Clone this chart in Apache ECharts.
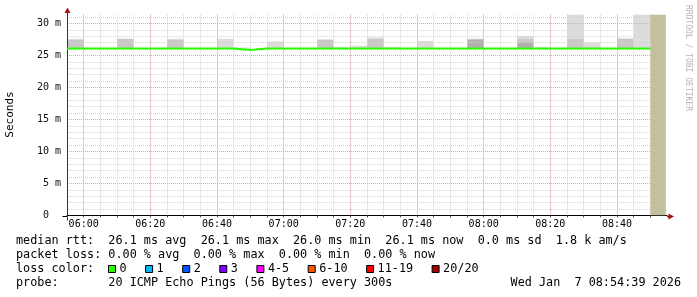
<!DOCTYPE html>
<html><head><meta charset="utf-8">
<script src="https://cdn.jsdelivr.net/npm/echarts@6/dist/echarts.min.js"></script>
<style>html,body{margin:0;padding:0;background:#fff}#c{width:697px;height:297px}</style>
</head><body><div id="c"></div>
<script>
// ---- data ----
const stepStarts = ['05:55','06:00','06:05','06:10','06:15','06:20','06:25','06:30','06:35','06:40',
  '06:45','06:50','06:55','07:00','07:05','07:10','07:15','07:20','07:25','07:30',
  '07:35','07:40','07:45','07:50','07:55','08:00','08:05','08:10','08:15','08:20',
  '08:25','08:30','08:35','08:40','08:45'];
const medianRtt = [26.1,26.1,26.1,26.1,26.1,26.1,26.1,26.1,26.1,26.1,
  25.85,26.1,26.1,26.1,26.1,26.1,26.1,26.1,26.1,26.1,
  26.1,26.1,26.1,26.1,26.1,26.1,26.1,26.1,26.1,26.1,
  26.1,26.1,26.1,26.1,26.1];
const smokeDark = [null,null,null,null,null,null,null,null,null,null,
  null,null,null,null,null,null,null,null,null,null,
  null,null,null,null,27.4,null,null,27.2,null,null,
  null,null,null,null,null];
const smokeMid = [27.45,null,null,27.6,null,null,27.4,null,null,null,
  null,null,null,null,null,27.4,null,null,27.6,null,
  null,null,null,null,27.6,null,null,27.6,null,null,
  27.65,null,null,27.65,null];
const smokeLight = [27.6,null,null,null,null,null,27.6,null,null,27.6,
  26.25,null,27.2,null,null,27.55,26.3,26.5,27.8,26.3,
  null,27.25,null,null,null,null,null,28.05,26.3,null,
  31.4,27.0,null,null,31.4];
const unknownSpan = ['08:50','08:54:39'];
const xTickLabels = ['06:00','06:20','06:40','07:00','07:20','07:40','08:00','08:20','08:40'];
const yTickLabels = ['0  ','5 m','10 m','15 m','20 m','25 m','30 m'];
const legendLines = [
  'median rtt:  26.1 ms avg  26.1 ms max  26.0 ms min  26.1 ms now  0.0 ms sd  1.8 k am/s',
  'packet loss: 0.00 % avg  0.00 % max  0.00 % min  0.00 % now',
  'loss color:',
  'probe:       20 ICMP Echo Pings (56 Bytes) every 300s'
];
const lossLabels = ['0','1','2','3','4-5','6-10','11-19','20/20'];
const lossColors = ['#26ff00','#00b8ff','#0059ff','#7e00ff','#ff00ff','#ff5500','#ff0000','#a10000'];
const timestampText = 'Wed Jan  7 08:54:39 2026';
const watermark = 'RRDTOOL / TOBI OETIKER';
const yAxisTitle = 'Seconds';

// ---- helpers ----
const toMin = s => { const p = s.split(':').map(Number); return p[0]*60 + p[1] + (p[2]||0)/60; };
const fmtHM = v => { const h = Math.floor(v/60), m = Math.round(v%60); return String(h).padStart(2,'0')+':'+String(m).padStart(2,'0'); };
const STEP = 5;
const MONO = '"DejaVu Sans Mono", "Liberation Mono", monospace';
const CH = 7.1;

function layer(tops, lowers) {
  const out = [];
  tops.forEach((v, i) => {
    if (v == null) return;
    let lo = medianRtt[i];
    lowers.forEach(arr => { if (arr[i] != null && arr[i] > lo) lo = arr[i]; });
    if (v > lo) out.push([toMin(stepStarts[i]), lo, v]);
  });
  return out;
}
function rectRender(color) {
  return function (params, api) {
    const t = api.value(0), lo = api.value(1), hi = api.value(2);
    const p0 = api.coord([t, hi]);
    const p1 = api.coord([t + STEP, lo]);
    return { type: 'rect', shape: { x: p0[0], y: p0[1], width: p1[0]-p0[0], height: p1[1]-p0[1] },
      style: { fill: color } };
  };
}

const xMin = toMin(stepStarts[0]);   // 355 (multiple of 5)
const xMax = 535;
const yMax = 31.4;
// stepped median line: each 5-minute value held across its interval
const lineData = [];
stepStarts.forEach((s, i) => { const t = toMin(s); lineData.push([t, medianRtt[i]]); lineData.push([t + STEP, medianRtt[i]]); });

// major-grid helper grid: same scale, extended left so its min (340) is a multiple of 20
const PX_PER_MIN = 600 / (xMax - xMin);
const majMin = 340;
const gridTop = 14.5, gridH = 201, gridLeft = 67;

const chart = echarts.init(document.getElementById('c'), null, { renderer: 'canvas' });
const GRAY = '#d4d4d4', RED = '#e6a4a4';
const option = {
  animation: false,
  backgroundColor: '#ffffff',
  grid: [
    { left: gridLeft, top: gridTop, width: 600, height: gridH, outerBoundsMode: 'none', containLabel: false },
    { left: gridLeft - (xMin - majMin) * PX_PER_MIN, top: gridTop, width: (xMax - majMin) * PX_PER_MIN, height: gridH, outerBoundsMode: 'none', containLabel: false }
  ],
  xAxis: [
    {
      type: 'value', gridIndex: 0, min: xMin, max: xMax, interval: STEP, z: 3,
      axisLine: { show: true, onZero: false, lineStyle: { color: '#000', width: 1 } },
      axisTick: { show: true, length: 2, lineStyle: { color: '#555' } },
      axisLabel: { margin: 4, color: '#000', fontFamily: MONO, fontSize: 10,
        formatter: v => { const s = fmtHM(v); return xTickLabels.includes(s) ? s : ''; } },
      splitLine: { show: true, showMinLine: false, showMaxLine: false,
        lineStyle: { color: GRAY, type: 'dotted', width: 1 } }
    },
    {
      type: 'value', gridIndex: 1, min: majMin, max: xMax, interval: 20, z: 3,
      axisLine: { show: false }, axisTick: { show: false }, axisLabel: { show: false },
      splitLine: { show: true, showMinLine: false, showMaxLine: false,
        lineStyle: { color: RED, type: 'dotted', width: 1 } }
    }
  ],
  yAxis: [
    {
      type: 'value', gridIndex: 0, min: 0, max: yMax, interval: 1, z: 3,
      axisLine: { show: true, lineStyle: { color: '#333', width: 1 } },
      axisTick: { show: false },
      axisLabel: { margin: 6, color: '#111', fontFamily: MONO, fontSize: 10,
        formatter: v => (Math.abs(v % 5) < 1e-9 && yTickLabels[v/5] !== undefined) ? yTickLabels[v/5] : '' },
      splitLine: { show: true, showMinLine: false, showMaxLine: false,
        lineStyle: { color: GRAY, type: 'dotted', width: 1 } }
    },
    {
      type: 'value', gridIndex: 0, min: 0, max: yMax, interval: 5, z: 3,
      axisLine: { show: false }, axisTick: { show: false }, axisLabel: { show: false },
      splitLine: { show: true, showMinLine: false, showMaxLine: false,
        lineStyle: { color: RED, type: 'dotted', width: 1 } }
    },
    {
      type: 'value', gridIndex: 1, min: 0, max: yMax, show: false,
      axisLine: { show: false }, axisTick: { show: false }, axisLabel: { show: false }, splitLine: { show: false }
    }
  ],
  series: [
    { type: 'custom', name: 'smoke-light', renderItem: rectRender('#dcdcdc'), clip: true, z: 2,
      xAxisIndex: 0, yAxisIndex: 0, encode: { x: 0, y: [1, 2] }, data: layer(smokeLight, [smokeDark, smokeMid]) },
    { type: 'custom', name: 'smoke-mid', renderItem: rectRender('#c8c8c8'), clip: true, z: 2,
      xAxisIndex: 0, yAxisIndex: 0, encode: { x: 0, y: [1, 2] }, data: layer(smokeMid, [smokeDark]) },
    { type: 'custom', name: 'smoke-dark', renderItem: rectRender('#b0b0b0'), clip: true, z: 2,
      xAxisIndex: 0, yAxisIndex: 0, encode: { x: 0, y: [1, 2] }, data: layer(smokeDark, []) },
    { type: 'custom', name: 'unknown', z: 4, clip: true, xAxisIndex: 0, yAxisIndex: 0,
      renderItem: function (params, api) {
        const p0 = api.coord([api.value(0), yMax]);
        const p1 = api.coord([api.value(1), 0]);
        return { type: 'rect', shape: { x: p0[0], y: p0[1], width: p1[0]-p0[0], height: p1[1]-p0[1] },
          style: { fill: '#c3c09e' } };
      },
      encode: { x: [0, 1] }, data: [[toMin(unknownSpan[0]), toMin(unknownSpan[1])]] },
    { type: 'line', name: 'median', z: 5, showSymbol: false, symbol: 'none', xAxisIndex: 0, yAxisIndex: 0,
      lineStyle: { color: '#26ff00', width: 2, join: 'miter', cap: 'butt' }, data: lineData }
  ]
};
chart.setOption(option);

// ---- decorations placed from the axis scale ----
const o = chart.convertToPixel({ gridIndex: 0 }, [xMin, 0]);
const tp = chart.convertToPixel({ gridIndex: 0 }, [xMin, yMax]);
const rp = chart.convertToPixel({ gridIndex: 0 }, [xMax, 0]);
const ax = Math.round(o[0]) + 0.5, ay = Math.round(o[1]) + 0.5;
const els = [];
els.push({ type: 'line', shape: { x1: ax - 5, y1: ay, x2: ax, y2: ay }, style: { stroke: '#000', lineWidth: 1 } });
els.push({ type: 'line', shape: { x1: ax, y1: ay, x2: ax, y2: ay + 4 }, style: { stroke: '#333', lineWidth: 1 } });
els.push({ type: 'line', shape: { x1: rp[0], y1: ay, x2: rp[0] + 2, y2: ay }, style: { stroke: '#000', lineWidth: 1 } });
els.push({ type: 'line', shape: { x1: ax, y1: tp[1], x2: ax, y2: tp[1] - 2 }, style: { stroke: '#333', lineWidth: 1 } });
els.push({ type: 'polygon', shape: { points: [[ax - 3, tp[1] - 1.5], [ax + 3, tp[1] - 1.5], [ax, tp[1] - 7]] }, style: { fill: '#b01010' } });
els.push({ type: 'polygon', shape: { points: [[rp[0] + 1.5, ay - 3], [rp[0] + 1.5, ay + 3], [rp[0] + 7, ay]] }, style: { fill: '#b01010' } });

// legend text lines
const lineY = [240.7, 255, 269.3, 283.3];
legendLines.forEach((t, i) => {
  els.push({ type: 'text', x: 16, y: lineY[i], style: { text: t, font: '11.8px ' + MONO, fill: '#000', align: 'left', verticalAlign: 'middle' } });
});
let bx = 108;
lossLabels.forEach((lab, i) => {
  els.push({ type: 'rect', shape: { x: bx + 0.5, y: 265.5, width: 7, height: 7 }, style: { fill: lossColors[i], stroke: '#000', lineWidth: 1 } });
  els.push({ type: 'text', x: bx + 11.5, y: lineY[2], style: { text: lab, font: '11.8px ' + MONO, fill: '#000', align: 'left', verticalAlign: 'middle' } });
  bx += 30 + CH * lab.length;
});
els.push({ type: 'text', x: 681, y: lineY[3], style: { text: timestampText, font: '11.8px ' + MONO, fill: '#000', align: 'right', verticalAlign: 'middle' } });
els.push({ type: 'text', x: 688, y: 5, rotation: -Math.PI / 2, style: { text: watermark, font: '8px ' + MONO, fill: '#b4b4b4', align: 'left', verticalAlign: 'middle' } });
els.push({ type: 'text', x: 10, y: 114.5, rotation: Math.PI / 2, style: { text: yAxisTitle, font: '11px ' + MONO, fill: '#000', align: 'center', verticalAlign: 'middle' } });

chart.setOption({ graphic: { elements: els } });
</script>
</body></html>
